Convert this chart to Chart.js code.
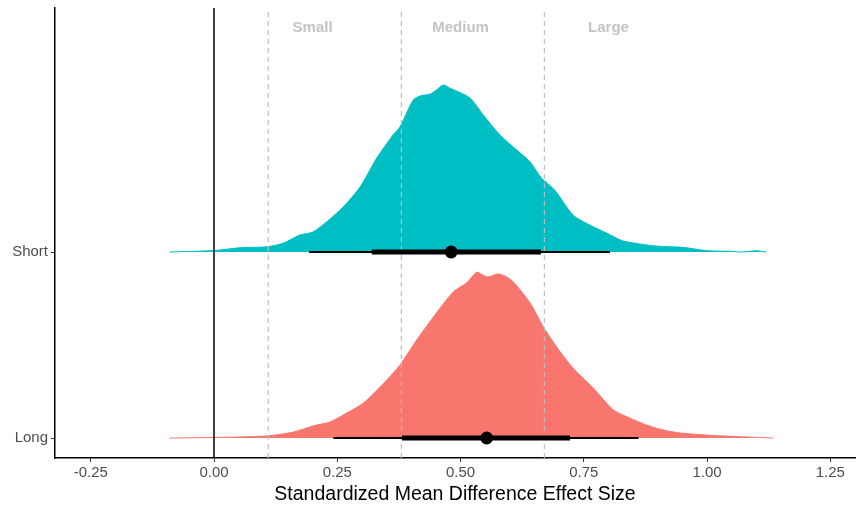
<!DOCTYPE html>
<html>
<head>
<meta charset="utf-8">
<script src="https://cdn.jsdelivr.net/npm/chart.js@4.4.0/dist/chart.umd.min.js"></script>
<style>
  html, body { margin: 0; padding: 0; background: #fff; overflow: hidden; }
  canvas { display: block; }
</style>
</head>
<body>
<canvas id="grafico" width="856" height="506"></canvas>
<script>
// rows: Long sits at y = 0, Short at y = 1
const rowLabels = ["Long", "Short"];

// density of the posterior (height in row units)
const shortX = [-0.09, 0.0, 0.053, 0.107, 0.14, 0.174, 0.201, 0.228, 0.262, 0.296, 0.33, 0.363, 0.377, 0.404, 0.418, 0.438, 0.451, 0.465, 0.478, 0.519, 0.546, 0.58, 0.614, 0.641, 0.664, 0.691, 0.728, 0.762, 0.796, 0.83, 0.897, 0.951, 1.0, 1.046, 1.07, 1.1, 1.12];
const shortDens = [0, 0.008, 0.023, 0.028, 0.047, 0.091, 0.108, 0.161, 0.242, 0.349, 0.505, 0.629, 0.672, 0.817, 0.839, 0.849, 0.871, 0.898, 0.882, 0.828, 0.737, 0.629, 0.548, 0.484, 0.398, 0.333, 0.199, 0.145, 0.102, 0.059, 0.032, 0.025, 0.007, 0.004, 0, 0.007, 0];

const longX = [-0.09, 0.0, 0.107, 0.161, 0.201, 0.235, 0.269, 0.303, 0.337, 0.377, 0.411, 0.445, 0.485, 0.512, 0.533, 0.545, 0.556, 0.575, 0.59, 0.607, 0.641, 0.668, 0.695, 0.728, 0.769, 0.81, 0.843, 0.877, 0.911, 0.945, 0.999, 1.066, 1.134];
const longDens = [0, 0.003, 0.011, 0.032, 0.065, 0.086, 0.134, 0.188, 0.274, 0.392, 0.527, 0.651, 0.785, 0.833, 0.892, 0.876, 0.866, 0.882, 0.871, 0.839, 0.726, 0.597, 0.489, 0.376, 0.269, 0.151, 0.108, 0.07, 0.043, 0.027, 0.016, 0.007, 0];

// intervals [low, high] and medians
const shortOuter = [0.193, 0.803];
const shortInner = [0.32, 0.663];
const shortMedian = 0.481;
const longOuter = [0.242, 0.861];
const longInner = [0.381, 0.722];
const longMedian = 0.553;

// reference lines and size labels
const refLines = [0.11, 0.38, 0.67];
const sizeLabels = ["Small", "Medium", "Large"];
const sizeLabelX = [0.2, 0.5, 0.8];
const xTicks = [-0.25, 0, 0.25, 0.5, 0.75, 1.0, 1.25];

const xMin = -0.3225, xMax = 1.30;
const yMin = -0.1075, yMax = 2.312;
const FONT = "'Liberation Sans', Arial, sans-serif";

function pares(xs, ys, base) {
    return xs.map((x, i) => ({ x: x, y: base + ys[i] }));
}

function segmento(lim, row, largura, ordem) {
    return {
        data: [{ x: lim[0], y: row }, { x: lim[1], y: row }],
        showLine: true, borderColor: "#000", borderWidth: largura,
        borderCapStyle: "butt", pointRadius: 0, order: ordem
    };
}

const datasets = [
    {
        data: pares(shortX, shortDens, 1), showLine: true,
        borderColor: "#00BFC4", backgroundColor: "#00BFC4", borderWidth: 1,
        pointRadius: 0, fill: { value: 1 }, tension: 0.25, order: 5
    },
    {
        data: pares(longX, longDens, 0), showLine: true,
        borderColor: "#F8766D", backgroundColor: "#F8766D", borderWidth: 1,
        pointRadius: 0, fill: { value: 0 }, tension: 0.25, order: 5
    },
    {
        data: [{ x: 0, y: yMin }, { x: 0, y: yMax }], showLine: true,
        borderColor: "#000", borderWidth: 1.5, pointRadius: 0, order: 4
    }
];

refLines.forEach(v => {
    datasets.push({
        data: [{ x: v, y: yMin }, { x: v, y: yMax }], showLine: true,
        borderColor: "#bdbdbd", borderWidth: 1.2, borderDash: [5, 4],
        pointRadius: 0, order: 3
    });
});

datasets.push(segmento(shortOuter, 1, 2, 2));
datasets.push(segmento(longOuter, 0, 2, 2));
datasets.push(segmento(shortInner, 1, 5, 1));
datasets.push(segmento(longInner, 0, 5, 1));
datasets.push({
    data: [{ x: shortMedian, y: 1 }, { x: longMedian, y: 0 }],
    pointRadius: 6.5, pointBackgroundColor: "#000", pointBorderWidth: 0, order: 0
});

// Small / Medium / Large at the top
const rotulos = {
    id: "rotulos",
    afterDraw(chart) {
        const c = chart.ctx;
        const sx = chart.scales.x;
        c.save();
        c.font = "bold 15px " + FONT;
        c.fillStyle = "#c4c4c4";
        c.textAlign = "center";
        c.textBaseline = "middle";
        sizeLabels.forEach((t, i) => {
            c.fillText(t, sx.getPixelForValue(sizeLabelX[i]), 28);
        });
        c.restore();
    }
};

new Chart(document.getElementById("grafico").getContext("2d"), {
    type: "scatter",
    data: { datasets: datasets },
    plugins: [rotulos],
    options: {
        responsive: false,
        animation: false,
        devicePixelRatio: 1,
        layout: { autoPadding: false, padding: { left: 0, right: 1, top: 8, bottom: 0 } },
        plugins: { legend: { display: false }, tooltip: { enabled: false } },
        scales: {
            x: {
                type: "linear", min: xMin, max: xMax,
                afterBuildTicks: s => { s.ticks = xTicks.map(v => ({ value: v })); },
                afterFit: s => { s.height = 48; s.paddingLeft = 0; s.paddingRight = 0; },
                ticks: {
                    callback: v => v.toFixed(2),
                    font: { family: FONT, size: 15 }, color: "#4d4d4d", padding: 2
                },
                grid: { drawOnChartArea: false, drawTicks: true, tickLength: 4, color: "#333" },
                border: { display: true, color: "#000", width: 1.5 },
                title: {
                    display: true, text: "Standardized Mean Difference Effect Size",
                    font: { family: FONT, size: 19.5 }, color: "#000", padding: { top: 2, bottom: 0 }
                }
            },
            y: {
                type: "linear", min: yMin, max: yMax,
                afterBuildTicks: s => { s.ticks = [{ value: 0 }, { value: 1 }]; },
                afterFit: s => { s.width = 55; s.paddingTop = 0; s.paddingBottom = 0; },
                ticks: {
                    callback: v => rowLabels[v],
                    font: { family: FONT, size: 15 }, color: "#4d4d4d", padding: 3
                },
                grid: { drawOnChartArea: false, drawTicks: true, tickLength: 4, color: "#333" },
                border: { display: true, color: "#000", width: 1.5 }
            }
        }
    }
});
</script>
</body>
</html>
